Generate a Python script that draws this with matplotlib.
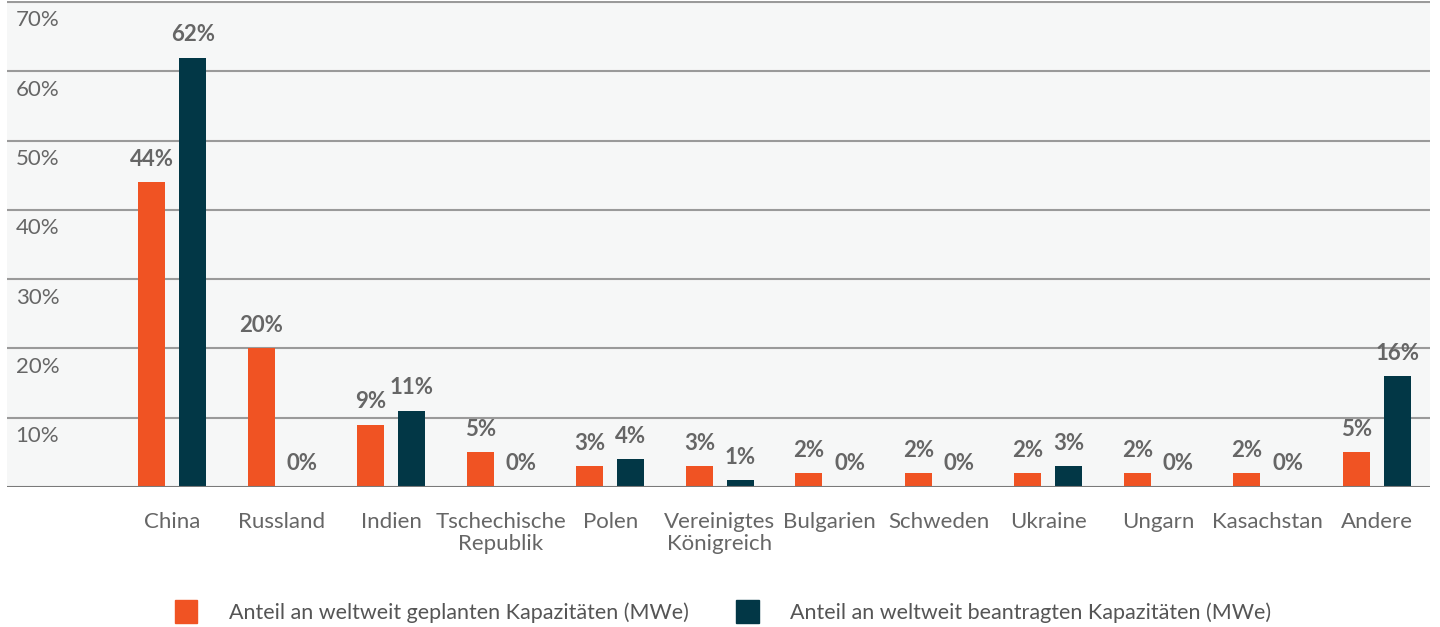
import matplotlib
matplotlib.use('Agg')
import matplotlib.pyplot as plt
import matplotlib.transforms as mtransforms
from matplotlib.patches import Patch
import numpy as np

plt.rcParams['font.family'] = ['Lato', 'DejaVu Sans']

countries = ["China", "Russland", "Indien", "Tschechische\nRepublik", "Polen",
             "Vereinigtes\nKönigreich", "Bulgarien", "Schweden", "Ukraine",
             "Ungarn", "Kasachstan", "Andere"]
planned = [44, 20, 9, 5, 3, 3, 2, 2, 2, 2, 2, 5]
applied = [62, 0, 11, 0, 4, 1, 0, 0, 3, 0, 0, 16]
yticks = [10, 20, 30, 40, 50, 60, 70]
series_names = ["Anteil an weltweit geplanten Kapazitäten (MWe)",
                "Anteil an weltweit beantragten Kapazitäten (MWe)"]

orange = '#f05323'
teal = '#023746'
txt = '#666666'

fig = plt.figure(figsize=(14.4, 6.27), dpi=100)
ax = fig.add_axes([0.005, 0.2233, 0.988, 0.775])
ax.set_facecolor('#f6f7f7')

x = np.arange(len(countries))
w = 0.247
off = 0.187
b1 = ax.bar(x - off, planned, w, color=orange, zorder=3)
b2 = ax.bar(x + off, applied, w, color=teal, zorder=3)

for bars, vals in [(b1, planned), (b2, applied)]:
    for r, v in zip(bars, vals):
        ax.annotate(f"{v}%", (r.get_x() + r.get_width() / 2, v),
                    xytext=(0, 9), textcoords='offset points',
                    ha='center', va='bottom', fontsize=16, fontweight='bold',
                    color=txt, zorder=4)

ax.set_xlim(-1.507, 11.484)
ax.set_ylim(0, 70.15)

for t in yticks:
    ax.axhline(t, color='#9a9a9a', lw=1.5, zorder=1)
ax.axhline(0, color='#7a7a7a', lw=1.5, zorder=4)

trans = mtransforms.blended_transform_factory(ax.transAxes, ax.transData)
for t in yticks:
    ax.annotate(f"{t}%", (0, t), xycoords=trans, xytext=(6, -6),
                textcoords='offset points', ha='left', va='top',
                fontsize=16, color=txt)

ax.set_yticks([])
ax.set_xticks(x)
ax.set_xticklabels(countries, fontsize=16, color=txt, linespacing=1.15, va='top')
ax.tick_params(axis='x', length=0, pad=18)
for s in ax.spines.values():
    s.set_visible(False)

handles = [Patch(color=orange), Patch(color=teal)]
fig.legend(handles, series_names, loc='lower center', ncol=2, frameon=False,
           fontsize=15.5, labelcolor='#555555', bbox_to_anchor=(0.502, -0.024),
           handlelength=1.05, handleheight=1.25, handletextpad=1.45, columnspacing=2.2)

fig.savefig('out.png', dpi=100, facecolor='white')
